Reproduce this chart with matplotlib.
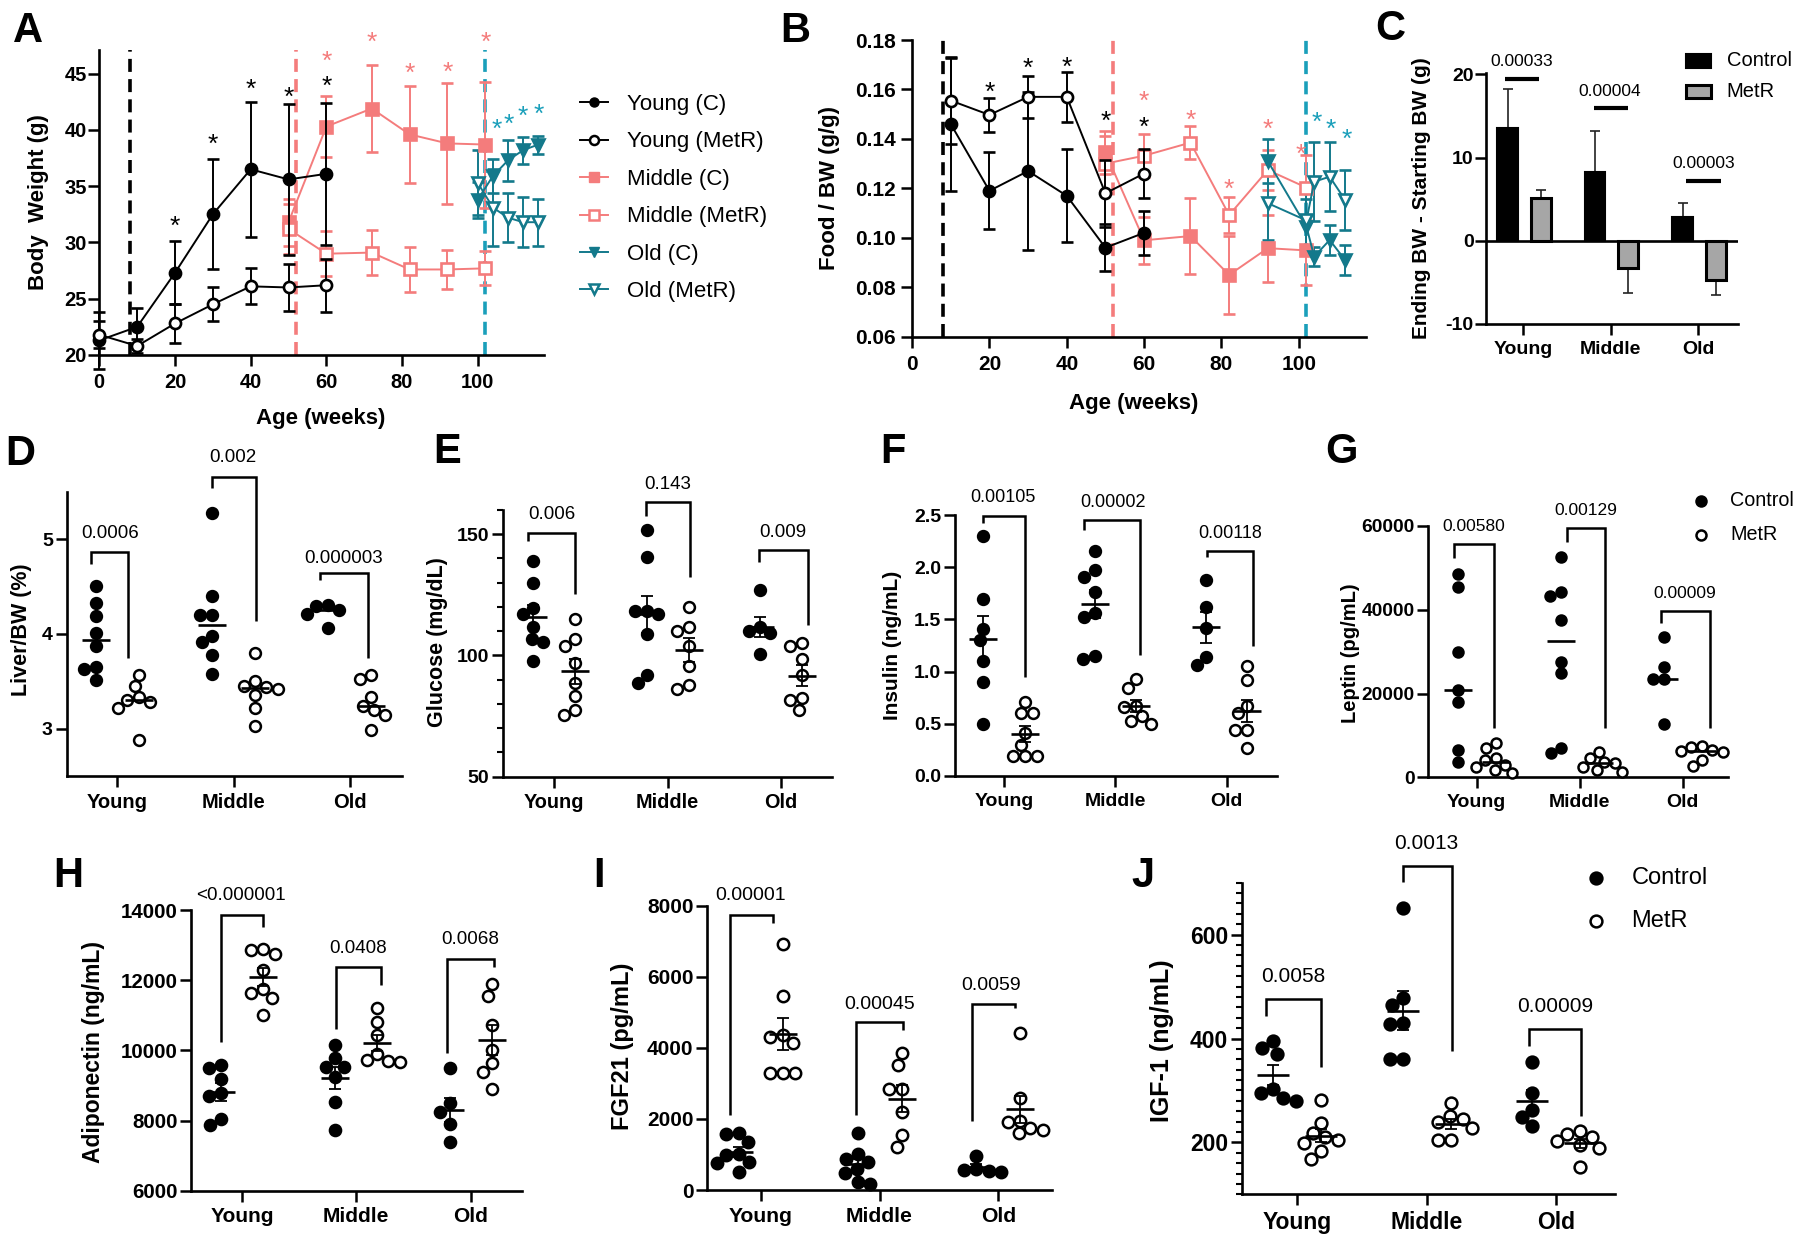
import numpy as np
import matplotlib
matplotlib.use("Agg")
import matplotlib.pyplot as plt
from matplotlib.lines import Line2D
from matplotlib.patches import Rectangle
from matplotlib.ticker import MultipleLocator
from matplotlib.transforms import offset_copy

plt.rcParams["font.family"] = ["Liberation Sans", "DejaVu Sans"]
plt.rcParams["axes.linewidth"] = 1.9

# ======================= DATA =======================
groups = ["Young", "Middle", "Old"]

# ---- Panel A: body weight (g) vs age (weeks)
a_young_x = [0, 10, 20, 30, 40, 50, 60]
a_young_c = [21.3, 22.5, 27.3, 32.5, 36.5, 35.6, 36.1]
a_young_c_err = [2.5, 1.7, 2.8, 4.9, 6.0, 6.7, 6.3]
a_young_m = [21.8, 20.8, 22.8, 24.5, 26.1, 26.0, 26.2]
a_young_m_err = [1.2, 0.6, 1.7, 1.5, 1.6, 2.1, 2.35]
a_mid_x = [50, 60, 72, 82, 92, 102]
a_mid_c = [31.8, 40.3, 41.9, 39.6, 38.8, 38.7]
a_mid_c_err = [2.1, 2.7, 3.9, 4.3, 5.4, 5.6]
a_mid_m = [31.2, 29.0, 29.1, 27.6, 27.6, 27.7]
a_mid_m_err = [2.2, 2.0, 2.0, 2.0, 1.7, 1.5]
a_old_x = [100, 104, 108, 112, 116]
a_old_c = [33.8, 35.9, 37.3, 38.2, 38.7]
a_old_c_err = [1.6, 1.5, 1.8, 1.2, 0.8]
a_old_m = [35.3, 33.1, 32.2, 31.8, 31.8]
a_old_m_err = [2.9, 3.4, 2.2, 2.2, 2.1]
a_diet_start = [8, 52, 102]
a_star_black_x = [20, 30, 40, 50, 60]
a_star_black_y = [32.1, 39.4, 44.3, 43.6, 44.6]
a_star_pink_x = [60, 72, 82, 92, 102]
a_star_pink_y = [46.8, 48.5, 45.7, 45.8, 48.5]
a_star_teal_x = [105, 108.3, 112, 116]
a_star_teal_y = [40.75, 41.2, 41.9, 42.1]
series_labels = ["Young (C)", "Young (MetR)", "Middle (C)", "Middle (MetR)", "Old (C)", "Old (MetR)"]

# ---- Panel B: food / BW (g/g)
b_young_x = [10, 20, 30, 40, 50, 60]
b_young_c = [0.146, 0.119, 0.127, 0.117, 0.096, 0.102]
b_young_c_err = [0.027, 0.0155, 0.032, 0.0188, 0.0094, 0.0088]
b_young_m = [0.1555, 0.1497, 0.157, 0.157, 0.118, 0.126]
b_young_m_err = [0.0174, 0.007, 0.0086, 0.010, 0.0135, 0.010]
b_mid_x = [50, 60, 72, 82, 92, 102]
b_mid_c = [0.1345, 0.099, 0.1007, 0.085, 0.0958, 0.0949]
b_mid_c_err = [0.0085, 0.0095, 0.0155, 0.0158, 0.0135, 0.014]
b_mid_m = [0.130, 0.1332, 0.1385, 0.1092, 0.1274, 0.1203]
b_mid_m_err = [0.011, 0.0087, 0.0067, 0.0074, 0.008, 0.013]
b_old_x = [92, 102, 104, 108, 112]
b_old_c = [0.131, 0.1045, 0.0924, 0.0991, 0.091]
b_old_c_err = [0.009, 0.011, 0.004, 0.006, 0.006]
b_old_m = [0.114, 0.107, 0.1227, 0.1247, 0.1153]
b_old_m_err = [0.015, 0.012, 0.016, 0.014, 0.012]
b_diet_start = [8, 52, 102]
b_star_black_x = [20, 30, 40, 50, 60]
b_star_black_y = [0.1618, 0.1715, 0.1722, 0.1504, 0.1478]
b_star_pink_x = [60, 72, 82, 92, 100.5]
b_star_pink_y = [0.1585, 0.1505, 0.1227, 0.147, 0.137]
b_star_teal_x = [104.7, 108.3, 112.4]
b_star_teal_y = [0.1497, 0.147, 0.143]

# ---- Panel C: ending - starting BW (g)
c_control = [13.5, 8.3, 2.8]
c_control_err = [4.8, 4.9, 1.8]
c_metr = [5.2, -3.3, -4.7]
c_metr_err = [0.9, 3.0, 1.8]
c_pvals = ["0.00033", "0.00004", "0.00003"]

# ---- Panels D-J: individual animals (Control, MetR) per age group
d_ctrl = [[4.50, 4.33, 4.19, 4.01, 3.87, 3.65, 3.63, 3.51],
          [5.28, 4.40, 4.20, 4.20, 3.98, 3.91, 3.78, 3.58],
          [4.30, 4.29, 4.25, 4.21, 4.06]]
d_metr = [[3.57, 3.45, 3.33, 3.30, 3.28, 3.22, 2.88],
          [3.80, 3.50, 3.45, 3.44, 3.42, 3.36, 3.22, 3.03],
          [3.57, 3.52, 3.33, 3.24, 3.20, 3.14, 2.99]]
d_p = ["0.0006", "0.002", "0.000003"]

e_ctrl = [[139.0, 129.8, 119.7, 116.9, 111.9, 107.0, 105.6, 97.9],
          [151.8, 140.8, 118.3, 118.3, 116.9, 108.7, 92.1, 88.7],
          [126.9, 111.9, 110.0, 109.4, 100.7]]
e_metr = [[114.9, 106.6, 103.9, 97.0, 88.7, 83.2, 77.7, 75.6],
          [120.0, 111.9, 110.0, 103.9, 95.6, 87.7, 86.0],
          [105.0, 103.9, 98.6, 92.1, 82.5, 81.8, 77.7]]
e_p = ["0.006", "0.143", "0.009"]

f_ctrl = [[2.30, 1.70, 1.41, 1.30, 1.10, 0.90, 0.50],
          [2.155, 1.97, 1.91, 1.765, 1.565, 1.52, 1.15, 1.12],
          [1.88, 1.62, 1.42, 1.14, 1.06]]
f_metr = [[0.71, 0.60, 0.60, 0.41, 0.30, 0.19, 0.19, 0.19],
          [0.93, 0.84, 0.67, 0.66, 0.57, 0.53, 0.50],
          [1.05, 0.92, 0.67, 0.60, 0.44, 0.44, 0.27]]
f_p = ["0.00105", "0.00002", "0.00118"]

g_ctrl = [[48550, 45520, 29850, 20850, 18050, 6520, 3580],
          [52530, 44180, 43300, 37560, 27600, 24830, 6920, 5730],
          [33430, 26270, 23470, 23470, 12730]]
g_metr = [[8120, 6930, 4540, 4140, 2950, 2550, 1750, 960],
          [6040, 4540, 3740, 3340, 2550, 1750, 1350],
          [7400, 7200, 6500, 6200, 6000, 4200, 2600]]
g_p = ["0.00580", "0.00129", "0.00009"]

h_ctrl = [[9580, 9490, 9170, 8780, 8700, 8030, 7870],
          [10150, 9770, 9520, 9520, 9250, 8540, 7730],
          [9490, 8490, 8250, 7900, 7400]]
h_metr = [[12880, 12860, 12750, 12290, 11740, 11640, 11480, 11010],
          [11200, 10820, 10450, 9900, 9720, 9700, 9680],
          [11890, 11550, 10720, 10010, 9630, 9390, 8890]]
h_p = ["<0.000001", "0.0408", "0.0068"]

i_ctrl = [[1600, 1580, 1360, 1000, 980, 800, 750, 520],
          [1610, 1000, 880, 790, 600, 480, 230, 180],
          [960, 600, 560, 540, 520]]
i_metr = [[6920, 5470, 4360, 4300, 4150, 3300, 3300, 3300],
          [3860, 3520, 2830, 2830, 2200, 1550, 1220],
          [4430, 2580, 1950, 1900, 1740, 1700, 1590]]
i_p = ["0.00001", "0.00045", "0.0059"]

j_ctrl = [[395, 382, 371, 302, 295, 285, 279],
          [652, 478, 464, 430, 427, 361, 361],
          [355, 295, 263, 249, 232]]
j_metr = [[281, 237, 218, 210, 205, 199, 183, 168],
          [276, 251, 245, 240, 228, 205, 205],
          [221, 217, 210, 202, 194, 189, 152]]
j_p = ["0.0058", "0.0013", "0.00009"]

# ======================= LAYOUT / STYLE =======================
W, H, DPI = 1800, 1243, 100
fig = plt.figure(figsize=(W / DPI, H / DPI), dpi=DPI)
fig.patch.set_facecolor("white")

PINK = "#F47C7C"
TEAL = "#13798B"
TEAL_LINE = "#1A9FBA"
GRAY = "#A6A6A6"


def rect(l, r, t, b):
    return [l / W, 1 - b / H, (r - l) / W, (b - t) / H]


def ftext(x, y, s, **kw):
    return fig.text(x / W, 1 - y / H, s, **kw)


def base_axes(rc, xlim, ylim):
    ax = fig.add_axes(rect(*rc))
    ax.set_xlim(*xlim)
    ax.set_ylim(*ylim)
    ax.spines["top"].set_visible(False)
    ax.spines["right"].set_visible(False)
    ax.patch.set_alpha(0)
    ax.tick_params(which="major", length=8, width=1.8, color="black")
    ax.tick_params(which="minor", length=4.5, width=1.5, color="black")
    return ax


def set_ticks(ax, xt, xl, yt, yl, xfs, yfs, xpad=4, ypad=2):
    ax.set_xticks(xt, labels=xl, fontsize=xfs, fontweight="bold")
    ax.set_yticks(yt, labels=yl, fontsize=yfs, fontweight="bold")
    ax.tick_params(axis="x", pad=xpad)
    ax.tick_params(axis="y", pad=ypad)


def letter(x, y, s):
    ftext(x, y, s, fontsize=30, fontweight="bold", ha="left", va="baseline")


def stars(ax, xs, ys, color, fs=19):
    tr = offset_copy(ax.transData, fig=fig, y=-0.58 * fs, units="points")
    for x, y in zip(xs, ys):
        ax.text(x, y, "*", color=color, fontsize=fs, ha="center", va="baseline",
                transform=tr, clip_on=False)


def series(ax, x, y, err, color, marker, filled, ms, z=3):
    ax.errorbar(x, y, yerr=err, color=color, lw=1.4, marker=marker, ms=ms,
                mfc=color if filled else "white", mec=color, mew=1.9,
                elinewidth=1.4, capsize=4.5, capthick=1.4, zorder=z, clip_on=False)


def vlines(ax, xs, colors):
    for x, c in zip(xs, colors):
        ax.axvline(x, color=c, lw=2.6, ls=(0, (3.6, 2.0)), zorder=2)


# ---------------- Panel A ----------------
axA = base_axes((99.3, 543.6, 50, 355), (0, 117.4), (20, 47.1))
set_ticks(axA, [0, 20, 40, 60, 80, 100], ["0", "20", "40", "60", "80", "100"],
          [20, 25, 30, 35, 40, 45], ["20", "25", "30", "35", "40", "45"], 14.5, 14.5, xpad=5, ypad=1)
vlines(axA, a_diet_start, ["black", PINK, TEAL_LINE])
series(axA, a_mid_x, a_mid_c, a_mid_c_err, PINK, "s", True, 8)
series(axA, a_mid_x, a_mid_m, a_mid_m_err, PINK, "s", False, 8)
series(axA, a_old_x, a_old_c, a_old_c_err, TEAL, "v", True, 9)
series(axA, a_old_x, a_old_m, a_old_m_err, TEAL, "v", False, 9)
series(axA, a_young_x, a_young_c, a_young_c_err, "black", "o", True, 8, z=4)
series(axA, a_young_x, a_young_m, a_young_m_err, "black", "o", False, 8, z=4)
stars(axA, a_star_black_x, a_star_black_y, "black")
stars(axA, a_star_pink_x, a_star_pink_y, PINK)
stars(axA, a_star_teal_x, a_star_teal_y, TEAL_LINE)
ftext(38.4, 202.5, "Body  Weight (g)", rotation=90, fontsize=16, fontweight="bold", ha="center", va="center")
ftext(320.5, 418, "Age (weeks)", fontsize=16, fontweight="bold", ha="center", va="center")
letter(12.5, 41.7, "A")

handles = [
    Line2D([], [], color="black", marker="o", ms=6.5, mfc="black", mec="black", lw=1.4),
    Line2D([], [], color="black", marker="o", ms=6.5, mfc="white", mec="black", mew=1.8, lw=1.4),
    Line2D([], [], color=PINK, marker="s", ms=7, mfc=PINK, mec=PINK, lw=1.4),
    Line2D([], [], color=PINK, marker="s", ms=7, mfc="white", mec=PINK, mew=1.8, lw=1.4),
    Line2D([], [], color=TEAL, marker="v", ms=7.5, mfc=TEAL, mec=TEAL, lw=1.4),
    Line2D([], [], color=TEAL, marker="v", ms=7.5, mfc="white", mec=TEAL, mew=1.8, lw=1.4),
]
axA.legend(handles, series_labels, loc="upper left", bbox_to_anchor=(580 / W, 1 - 94 / H),
           bbox_transform=fig.transFigure, frameon=False, fontsize=16, handlelength=1.26,
           handletextpad=0.86, labelspacing=0.74, borderpad=0, borderaxespad=0)

# ---------------- Panel B ----------------
axB = base_axes((912.1, 1366.4, 40, 336.7), (0, 117.5), (0.06, 0.18))
bt = [0.06, 0.08, 0.10, 0.12, 0.14, 0.16, 0.18]
set_ticks(axB, [0, 20, 40, 60, 80, 100], ["0", "20", "40", "60", "80", "100"],
          bt, ["%.2f" % v for v in bt], 15, 15, xpad=5, ypad=4)
vlines(axB, b_diet_start, ["black", PINK, TEAL_LINE])
series(axB, b_mid_x, b_mid_c, b_mid_c_err, PINK, "s", True, 8)
series(axB, b_mid_x, b_mid_m, b_mid_m_err, PINK, "s", False, 8)
series(axB, b_old_x, b_old_c, b_old_c_err, TEAL, "v", True, 9)
series(axB, b_old_x, b_old_m, b_old_m_err, TEAL, "v", False, 9)
series(axB, b_young_x, b_young_c, b_young_c_err, "black", "o", True, 8, z=4)
series(axB, b_young_x, b_young_m, b_young_m_err, "black", "o", False, 8, z=4)
stars(axB, b_star_black_x, b_star_black_y, "black")
stars(axB, b_star_pink_x, b_star_pink_y, PINK)
stars(axB, b_star_teal_x, b_star_teal_y, TEAL_LINE)
ftext(830, 188, "Food / BW (g/g)", rotation=90, fontsize=16, fontweight="bold", ha="center", va="center")
ftext(1133.6, 403, "Age (weeks)", fontsize=16, fontweight="bold", ha="center", va="center")
letter(780, 41.7, "B")

# ---------------- Panel C ----------------
axC = base_axes((1486, 1737.7, 72.7, 324), (-0.426, 2.45), (-10, 20.2))
xc = np.arange(len(groups))
axC.bar(xc - 0.18, c_control, width=0.23, color="black", edgecolor="black", lw=1.5, zorder=2)
axC.bar(xc + 0.2, c_metr, width=0.23, color=GRAY, edgecolor="black", lw=2.2, zorder=2)
for xs, vals, errs in ((xc - 0.18, c_control, c_control_err), (xc + 0.2, c_metr, c_metr_err)):
    lo = [e if v < 0 else 0 for v, e in zip(vals, errs)]
    hi = [e if v >= 0 else 0 for v, e in zip(vals, errs)]
    axC.errorbar(xs, vals, yerr=[lo, hi], fmt="none", ecolor="#222222", elinewidth=1.2,
                 capsize=3.5, capthick=1.2, zorder=1)
axC.axhline(0, color="black", lw=1.9, zorder=3)
set_ticks(axC, list(xc), groups, [-10, 0, 10, 20], ["-10", "0", "10", "20"], 14, 14, xpad=4, ypad=1)
c_sig = [(-0.209, 0.179, 19.4, -0.018, 21.6), (0.811, 1.193, 15.9, 0.991, 18.0),
         (1.859, 2.259, 7.2, 2.057, 9.3)]
for (l, r, y, tx, ty), p in zip(c_sig, c_pvals):
    axC.plot([l, r], [y, y], color="black", lw=3, solid_capstyle="butt", clip_on=False)
    axC.text(tx, ty, p, ha="center", va="center", fontsize=12.5, clip_on=False)
fig.add_artist(Rectangle((1686 / W, 1 - 67.5 / H), 25 / W, 13 / H, transform=fig.transFigure,
                         facecolor="black", edgecolor="black", lw=1.5))
fig.add_artist(Rectangle((1686 / W, 1 - 98.2 / H), 25 / W, 13 / H, transform=fig.transFigure,
                         facecolor=GRAY, edgecolor="black", lw=2.2))
ftext(1726.7, 61, "Control", fontsize=14.5, ha="left", va="center")
ftext(1726.7, 91.7, "MetR", fontsize=14.5, ha="left", va="center")
ftext(1421.7, 198, "Ending BW - Starting BW (g)", rotation=90, fontsize=15, fontweight="bold",
      ha="center", va="center")
letter(1375, 40, "C")


# ---------------- Dot panels ----------------
def swarm_x(ax, xc0, vals, d_px):
    tr = ax.transData
    inv = tr.inverted()
    vals = np.asarray(vals, dtype=float)
    order = np.argsort(-vals, kind="stable")
    x0 = tr.transform((xc0, 0))[0]
    ys = np.array([tr.transform((xc0, v))[1] for v in vals])
    placed = []
    xs_px = np.zeros(len(vals))
    for i in order:
        y = ys[i]
        cands = [0.0]
        for px, py in placed:
            dy = abs(py - y)
            if dy < d_px:
                dx = np.sqrt(d_px ** 2 - dy ** 2)
                cands += [px + dx, px - dx]
        cands = sorted(cands, key=lambda c: (abs(c), c))
        chosen = cands[-1]
        for c in cands:
            if all((c - px) ** 2 + (y - py) ** 2 >= d_px ** 2 - 1e-6 for px, py in placed):
                chosen = c
                break
        placed.append((chosen, y))
        xs_px[i] = chosen
    return [inv.transform((x0 + c, 0))[0] for c in xs_px]


OFF = 0.185


def dot_panel(rc, xlim, ylim, yt, yl, ctrl, metr, center, sem, pvals, brs, ylabel, ylpos,
              lpos, key, tfs, xfs, pfs, ylfs, minor=None, ms=7.8, d_px=12.0, hw_px=14):
    ax = base_axes(rc, xlim, ylim)
    set_ticks(ax, [0, 1, 2], groups, yt, yl, xfs, tfs, xpad=4, ypad=2)
    if minor:
        ax.yaxis.set_minor_locator(MultipleLocator(minor))
    units_per_px = (xlim[1] - xlim[0]) / (rc[1] - rc[0])
    hw = hw_px * units_per_px
    for gi in range(len(groups)):
        for vals, off, filled in ((ctrl[gi], -OFF, True), (metr[gi], OFF, False)):
            xc0 = gi + off
            xs = swarm_x(ax, xc0, vals, d_px)
            ax.plot(xs, vals, "o", ms=ms, mfc="black" if filled else "white", mec="black",
                    mew=1.8, ls="none", zorder=3, clip_on=False)
            v = np.asarray(vals, dtype=float)
            m = np.median(v) if center == "median" else v.mean()
            ax.plot([xc0 - hw, xc0 + hw], [m, m], color="black", lw=1.9, zorder=4,
                    solid_capstyle="butt")
            if sem:
                s = v.std(ddof=1) / np.sqrt(len(v))
                ax.errorbar([xc0], [m], yerr=[s], fmt="none", ecolor="black", elinewidth=1.3,
                            capsize=4.3, capthick=1.3, zorder=4)
    for b, p in zip(brs, pvals):
        l, r, top, lb, rb, tx, ty = b
        ax.plot([l, l, r, r], [lb, top, top, rb], color="black", lw=1.8, clip_on=False,
                solid_joinstyle="miter", solid_capstyle="butt")
        ax.text(tx, ty, p, ha="center", va="center", fontsize=pfs, clip_on=False)
    ftext(ylpos[0], ylpos[1], ylabel, rotation=90, fontsize=ylfs, fontweight="bold",
          ha="center", va="center")
    letter(lpos[0], lpos[1], key)
    return ax


# D
dot_panel((66.7, 401.7, 491.7, 776), (-0.435, 2.445), (2.5, 5.5), [3, 4, 5], ["3", "4", "5"],
          d_ctrl, d_metr, "median", False, d_p,
          [(-0.226, 0.095, 4.86, 4.74, 3.74, -0.063, 5.06),
           (0.817, 1.193, 5.65, 5.54, 4.14, 0.997, 5.86),
           (1.743, 2.158, 4.64, 4.57, 3.74, 1.943, 4.79)],
          "Liver/BW (%)", (21.7, 630), (5, 465), "D", 14, 14.5, 13.5, 15.5)
# E
dot_panel((503.3, 831.7, 510, 776.7), (-0.45, 2.448), (50, 160), [50, 100, 150], ["50", "100", "150"],
          e_ctrl, e_metr, "mean", True, e_p,
          [(-0.235, 0.183, 150.7, 147.3, 125.3, -0.023, 158.3),
           (0.807, 1.198, 163.1, 157.6, 132.2, 0.997, 170.6),
           (1.81, 2.242, 143.4, 138.4, 112.5, 2.02, 150.7)],
          "Glucose (mg/dL)", (438, 642.5), (433, 463), "E", 14, 14.3, 13.5, 15.5, minor=10)
# F
ft = [0, 0.5, 1.0, 1.5, 2.0, 2.5]
dot_panel((955, 1276.7, 515, 776), (-0.44, 2.45), (0, 2.5), ft, ["%.1f" % v for v in ft],
          f_ctrl, f_metr, "mean", True, f_p,
          [(-0.186, 0.189, 2.49, 2.42, 0.95, -0.006, 2.67),
           (0.722, 1.222, 2.45, 2.356, 1.16, 0.977, 2.62),
           (1.821, 2.24, 2.156, 2.10, 1.25, 2.03, 2.324)],
          "Insulin (ng/mL)", (893, 645.8), (880, 463), "F", 14, 14, 13, 15)
# G
axG = dot_panel((1428.3, 1728.3, 526, 777.3), (-0.47, 2.443), (0, 60000),
                [0, 20000, 40000, 60000], ["0", "20000", "40000", "60000"],
                g_ctrl, g_metr, "median", False, g_p,
                [(-0.22, 0.168, 55710, 52290, 11690, -0.033, 59840),
                 (0.874, 1.246, 59610, 56270, 11690, 1.058, 63670),
                 (1.79, 2.265, 39790, 36930, 11690, 2.022, 43920)],
                "Leptin (pg/mL)", (1350, 653.3), (1325, 463), "G", 13.8, 14, 12.5, 14.5, ms=7.2, d_px=11)
fig.add_artist(Line2D([1701 / W], [1 - 500.7 / H], transform=fig.transFigure, marker="o", ms=7.2,
                      mfc="black", mec="black", mew=1.8, ls="none"))
fig.add_artist(Line2D([1701 / W], [1 - 535 / H], transform=fig.transFigure, marker="o", ms=7.2,
                      mfc="white", mec="black", mew=1.8, ls="none"))
ftext(1730, 500.7, "Control", fontsize=14.2, ha="left", va="center")
ftext(1730, 535, "MetR", fontsize=14.2, ha="left", va="center")
# H
ht = [6000, 8000, 10000, 12000, 14000]
dot_panel((191.3, 522.4, 910, 1190.7), (-0.442, 2.452), (6000, 14000), ht, [str(v) for v in ht],
          h_ctrl, h_metr, "mean", True, h_p,
          [(-0.181, 0.187, 13858, 10248, 13507, -0.007, 14400),
           (0.822, 1.214, 12385, 10599, 11863, 1.013, 12908),
           (1.793, 2.201, 12594, 9934, 12385, 1.994, 13146)],
          "Adiponectin (ng/mL)", (93.7, 1051.7), (53.6, 887), "H", 14.8, 15, 13.6, 16.5, ms=8, d_px=12.5)
# I
it = [0, 2000, 4000, 6000, 8000]
dot_panel((707.3, 1051.7, 905.7, 1190), (-0.45, 2.449), (0, 8000), it, [str(v) for v in it],
          i_ctrl, i_metr, "mean", True, i_p,
          [(-0.258, 0.106, 7738, 2110, 7503, -0.082, 8282),
           (0.802, 1.2, 4718, 2110, 4502, 0.998, 5233),
           (1.781, 2.141, 5233, 1941, 5111, 1.94, 5768)],
          "FGF21 (pg/mL)", (623, 1046.7), (593, 887), "I", 15, 15.2, 14, 17, ms=8.2, d_px=12.5)
# J
dot_panel((1242, 1614.7, 882.7, 1194.3), (-0.427, 2.451), (100, 700), [200, 400, 600],
          ["200", "400", "600"], j_ctrl, j_metr, "mean", True, j_p,
          [(-0.238, 0.183, 476.8, 442.8, 344.5, -0.034, 519.9),
           (0.814, 1.193, 733.1, 701, 375.3, 0.993, 775.5),
           (1.793, 2.193, 419, 386.3, 250.1, 1.993, 460.8)],
          "IGF-1 (ng/mL)", (1162.5, 1040.8), (1131, 887), "J", 16.5, 16.5, 15, 18, minor=20,
          ms=8.5, d_px=13, hw_px=16)
fig.add_artist(Line2D([1595.5 / W], [1 - 878.3 / H], transform=fig.transFigure, marker="o", ms=8.5,
                      mfc="black", mec="black", mew=1.8, ls="none"))
fig.add_artist(Line2D([1595.5 / W], [1 - 920.7 / H], transform=fig.transFigure, marker="o", ms=8.5,
                      mfc="white", mec="black", mew=1.8, ls="none"))
ftext(1631.3, 878.3, "Control", fontsize=17, ha="left", va="center")
ftext(1631.3, 920.7, "MetR", fontsize=17, ha="left", va="center")

fig.savefig("out.png", dpi=DPI, facecolor="white")
